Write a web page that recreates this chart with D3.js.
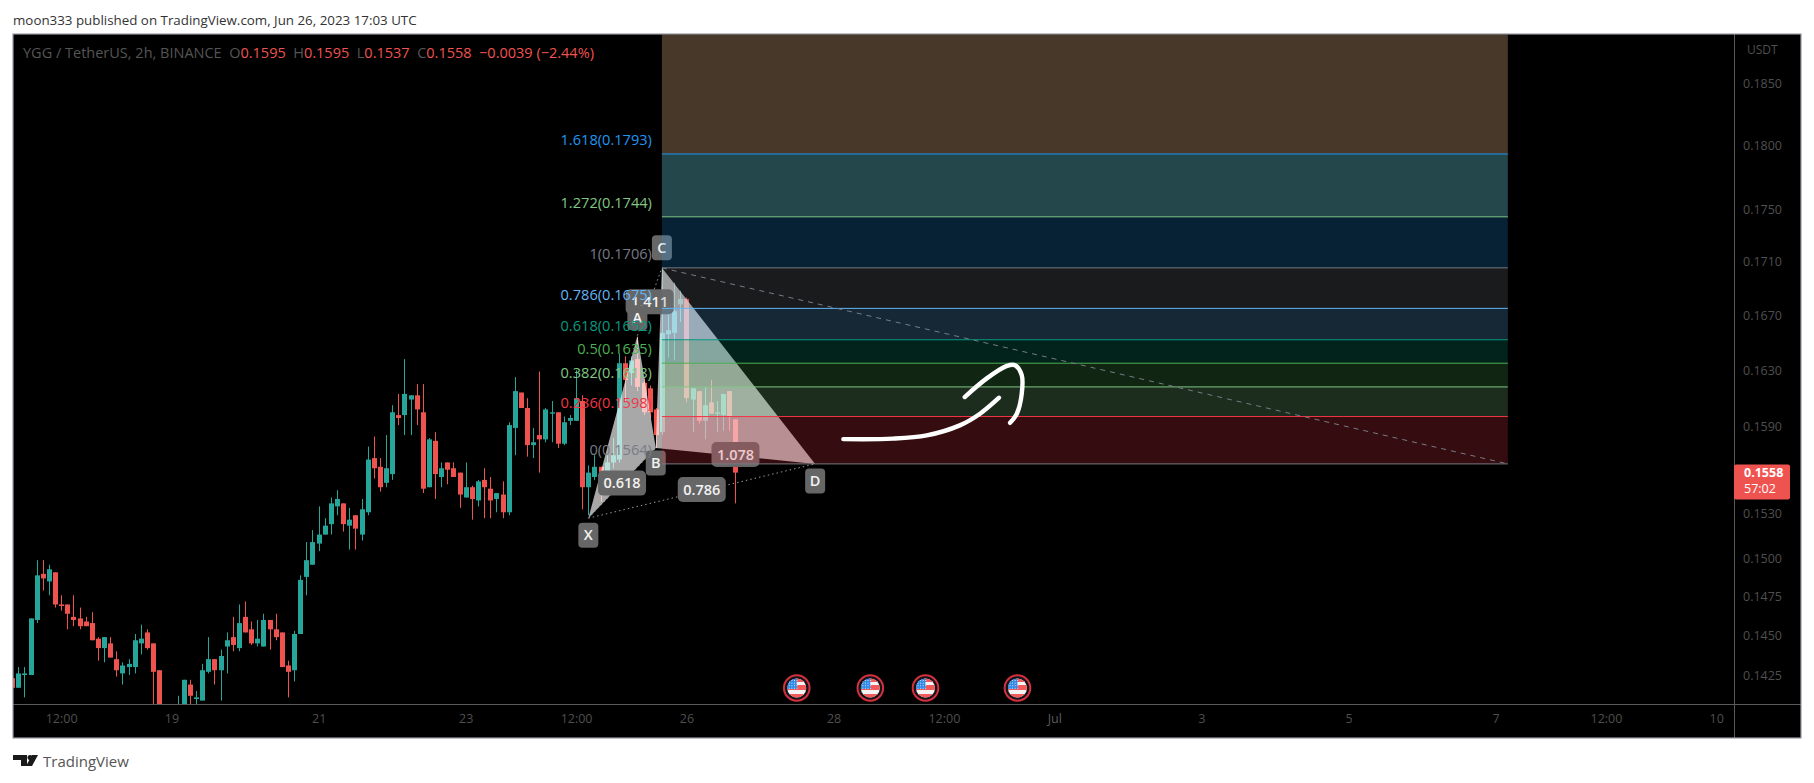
<!DOCTYPE html>
<html>
<head>
<meta charset="utf-8">
<script src="https://cdn.jsdelivr.net/npm/d3@7"></script>
<style>
html,body{margin:0;padding:0;background:#fff;}
svg{display:block;}
text{font-family:"Open Sans","Noto Sans",sans-serif;}
</style>
</head>
<body>
<svg id="chart" width="1814" height="783"></svg>
<script>
// bar index: 2h bars counted from 19 Jun 00:00
const firstBar = -26;
const opens  = [.1423,.1417,.1425,.1425,.1460,.1490,.1485,.1491,.1470,.1470,.1462,.1461,.1459,.1458,.1448,.1442,.1445,.1435,.1426,.1430,.1430,.1445,.1452,.1445,.1428,.1398,.1385,.1390,.1400,.1419,.1410,.1409,.1427,.1435,.1428,.1443,.1449,.1442,.1462,.1454,.1445,.1443,.1460,.1454,.1452,.1431,.1428,.1451,.1488,.1496,.1510,.1516,.1523,.1535,.1537,.1522,.1529,.1516,.1531,.1568,.1562,.1551,.1557,.1598,.1598,.1609,.1612,.1600,.1548,.1580,.1555,.1565,.1561,.1558,.1541,.1548,.1539,.1553,.1547,.1540,.1543,.1531,.1589,.1614,.1603,.1577,.1584,.1581,.1599,.1600,.1578,.1594,.1594,.1608,.1548,.1555,.1562,.1558,.1565,.1567,.1635,.1628,.1638,.1621,.1617,.1602,.1586,.1656,.1657,.1678,.1682,.1609,.1615,.1594,.1607,.1599,.1598,.1615,.1595];
const highs  = [.1423,.1430,.1430,.1461,.1499,.1499,.1496,.1491,.1476,.1470,.1476,.1468,.1462,.1465,.1449,.1449,.1449,.1440,.1433,.1435,.1451,.1457,.1454,.1445,.1428,.1400,.1400,.1412,.1422,.1422,.1415,.1432,.1449,.1435,.1441,.1452,.1462,.1470,.1472,.1459,.1460,.1464,.1460,.1464,.1452,.1434,.1453,.1489,.1511,.1519,.1535,.1527,.1541,.1546,.1537,.1534,.1529,.1540,.1576,.1583,.1568,.1584,.1605,.1613,.1638,.1612,.1620,.1620,.1582,.1586,.1565,.1565,.1565,.1558,.1565,.1549,.1553,.1561,.1555,.1544,.1552,.1593,.1625,.1614,.1610,.1589,.1629,.1603,.1608,.1600,.1597,.1598,.1630,.1612,.1563,.1570,.1562,.1570,.1582,.1642,.1640,.1640,.1654,.1624,.1619,.1603,.1705,.1672,.1694,.1688,.1683,.1617,.1615,.1618,.1623,.1608,.1613,.1615,.1595];
const lows   = [.1417,.1417,.1411,.1425,.1458,.1479,.1476,.1468,.1466,.1454,.1456,.1454,.1456,.1447,.1434,.1433,.1436,.1424,.1419,.1425,.1426,.1438,.1441,.1402,.1392,.1380,.1380,.1385,.1398,.1400,.1400,.1409,.1426,.1419,.1409,.1426,.1440,.1440,.1452,.1444,.1443,.1443,.1441,.1447,.1430,.1411,.1421,.1451,.1476,.1496,.1505,.1516,.1516,.1529,.1518,.1506,.1506,.1512,.1529,.1554,.1545,.1548,.1553,.1591,.1584,.1584,.1591,.1544,.1548,.1540,.1548,.1550,.1555,.1534,.1541,.1526,.1535,.1527,.1527,.1531,.1527,.1529,.1570,.1603,.1569,.1568,.1558,.1579,.1579,.1575,.1577,.1591,.1594,.1533,.1529,.1553,.1538,.1553,.1561,.1565,.1608,.1619,.1615,.1598,.1596,.1575,.1584,.1639,.1637,.1665,.1607,.1586,.1592,.1581,.1599,.1586,.1587,.1587,.1537];
const closes = [.1417,.1426,.1426,.1461,.1489,.1487,.1493,.1470,.1469,.1464,.1460,.1456,.1456,.1447,.1442,.1449,.1436,.1428,.1431,.1432,.1447,.1448,.1442,.1427,.1395,.1385,.1392,.1402,.1422,.1412,.1411,.1428,.1435,.1428,.1437,.1447,.1444,.1458,.1452,.1445,.1448,.1460,.1454,.1449,.1430,.1427,.1451,.1486,.1499,.1511,.1516,.1522,.1537,.1540,.1523,.1526,.1520,.1533,.1567,.1561,.1548,.1561,.1600,.1596,.1613,.1612,.1602,.1547,.1581,.1557,.1561,.1560,.1555,.1543,.1548,.1540,.1552,.1548,.1539,.1544,.1531,.1591,.1615,.1603,.1577,.1579,.1581,.1602,.1600,.1578,.1593,.1596,.1610,.1548,.1558,.1562,.1553,.1565,.1570,.1635,.1623,.1637,.1618,.1600,.1600,.1584,.1657,.1659,.1673,.1682,.1610,.1617,.1594,.1605,.1599,.1600,.1613,.1597,.1558];

const priceTicks = [.1850,.1800,.1750,.1710,.1670,.1630,.1590,.1530,.1500,.1475,.1450,.1425];
const timeTickBars = [-18,0,24,48,66,84,108,126,144,168,192,216,234,252];
const timeTickLabels = ["12:00","19","21","23","12:00","26","28","12:00","Jul","3","5","7","12:00","10"];

const fibRatios = ["1.618","1.272","1","0.786","0.618","0.5","0.382","0.236","0"];
const fibShown  = ["0.1793","0.1744","0.1706","0.1675","0.1652","0.1635","0.1618","0.1598","0.1564"];
const fibPrices = [.1793,.1744,.17052,.1675,.1652,.1635,.1618,.1597,.1564];
const fibColors = ["#2196f3","#81c784","#787b86","#64b5f6","#089981","#4caf50","#81c784","#f23645","#787b86"];
const fibBands  = ["rgba(205,160,120,.35)","rgba(100,203,211,.35)","rgba(33,150,243,.22)","rgba(120,123,134,.22)","rgba(100,181,246,.22)","rgba(8,153,129,.22)","rgba(76,175,80,.22)","rgba(129,199,132,.22)","rgba(242,54,69,.22)"];
const fibStartBar = 80, fibEndBar = 218, fibTopPrice = .1890;

const patternNames  = ["X","A","B","C","D"];
const patternBars   = [68,76,79,80,105];
const patternPrices = [.1527,.1655,.1575,.17052,.1564];
const ratioText = ["0.618","1.411","0.786","1.078"];
const ratioLegs = [["X","B"],["A","C"],["X","D"],["B","D"]];

const eventBars = [102,114,123,138];
const arrowA = [[109.6,.15812],[117.7,.15815],[123.2,.15838],[128.6,.15908],[131.9,.15990],[135.0,.16103]];
const arrowB = [[129.4,.16108],[133.0,.16241],[136.2,.16329],[137.6,.16336],[138.7,.16264],[138.7,.16132],[137.9,.15990],[136.8,.15926]];

const legendParts = [["YGG / TetherUS, 2h, BINANCE  ","#555"],["O","#555"],["0.1595  ","#ef5350"],["H","#555"],["0.1595  ","#ef5350"],["L","#555"],["0.1537  ","#ef5350"],["C","#555"],["0.1558  −0.0039 (−2.44%)","#ef5350"]];

// ---------- layout
const paneL = 13, paneT = 34, paneR = 1734, paneB = 704, frameR = 1801, frameB = 738;
const svg = d3.select("#chart");
const x = d3.scaleLinear().domain([0,252]).range([171.5,171.5+6.13*252]);
const y = d3.scaleLog().domain([.185,.1425]).range([83,675]);
const GREEN="#26a69a", RED="#ef5350";

svg.append("rect").attr("x",paneL).attr("y",paneT).attr("width",frameR-paneL).attr("height",frameB-paneT).attr("fill","#000");
svg.append("defs").append("clipPath").attr("id","pane").append("rect").attr("x",paneL).attr("y",paneT).attr("width",paneR-paneL).attr("height",paneB-paneT);
const pane = svg.append("g").attr("clip-path","url(#pane)");

// candles
const bars = d3.range(opens.length).map(i=>({b:firstBar+i,o:opens[i],h:highs[i],l:lows[i],c:closes[i]}));
const candle = pane.append("g").selectAll("g").data(bars).join("g");
candle.append("line").attr("x1",d=>Math.round(x(d.b))+.5).attr("x2",d=>Math.round(x(d.b))+.5)
  .attr("y1",d=>y(d.h)).attr("y2",d=>y(d.l))
  .attr("stroke",d=>d.c>=d.o?GREEN:RED).attr("stroke-width",1);
candle.append("rect").attr("x",d=>Math.round(x(d.b))-2).attr("width",5)
  .attr("y",d=>y(Math.max(d.o,d.c))).attr("height",d=>Math.max(1,y(Math.min(d.o,d.c))-y(Math.max(d.o,d.c))))
  .attr("fill",d=>d.c>=d.o?GREEN:RED);

// harmonic pattern
const pt = n=>{const i=patternNames.indexOf(n);return [x(patternBars[i]),y(patternPrices[i])];};
const lineGen = d3.line();
const pat = pane.append("g");
[["X","A","B"],["B","C","D"]].forEach(t=>{
  pat.append("path").attr("d",lineGen(t.map(pt))+"Z").attr("fill","rgba(255,255,255,.66)");
});
[["X","D"],["A","C"],["X","B"]].forEach(s=>{
  pat.append("path").attr("d",lineGen(s.map(pt))).attr("fill","none").attr("stroke","#9a9a9a").attr("stroke-width",1).attr("stroke-dasharray","1.5 3");
});
const labelFont = 'font-size:14.5px;font-weight:600;fill:#f2f2f2;';
function tag(g,cx,cy,w,h,rx,txt){
  g.append("rect").attr("x",cx-w/2).attr("y",cy-h/2).attr("width",w).attr("height",h).attr("rx",rx).attr("fill","#666");
  g.append("text").attr("x",cx).attr("y",cy).attr("dy","0.36em").attr("text-anchor","middle").attr("style",labelFont).text(txt);
}
const ratioNudge = [0,0,-1.5,-1.5];
ratioLegs.forEach((leg,i)=>{
  const a=pt(leg[0]),b=pt(leg[1]);
  tag(pat,(a[0]+b[0])/2,(a[1]+b[1])/2+ratioNudge[i],48,25,5,ratioText[i]);
});
const nameOffsets = {X:17,A:-18,B:15,C:-20,D:17};
patternNames.forEach(n=>{const p=pt(n);tag(pat,p[0],p[1]+nameOffsets[n],20,25,4,n);});

// fib bands and level lines
const fibG = pane.append("g");
const bandTops = [fibTopPrice].concat(fibPrices.slice(0,-1));
fibPrices.forEach((p,i)=>{
  fibG.append("rect").attr("x",x(fibStartBar)).attr("width",x(fibEndBar)-x(fibStartBar))
    .attr("y",y(bandTops[i])).attr("height",y(p)-y(bandTops[i])).attr("fill",fibBands[i]);
});
fibPrices.forEach((p,i)=>{
  fibG.append("line").attr("x1",x(fibStartBar)).attr("x2",x(fibEndBar)).attr("y1",y(p)).attr("y2",y(p)).attr("stroke",fibColors[i]).attr("stroke-width",1);
});
fibG.append("path").attr("d",lineGen([[x(fibStartBar),y(fibPrices[2])],[x(fibEndBar),y(fibPrices[8])]]))
  .attr("stroke","#787b86").attr("stroke-width",1).attr("stroke-dasharray","5 5").attr("fill","none");
fibPrices.forEach((p,i)=>{
  fibG.append("text").attr("x",x(fibStartBar)-10).attr("y",y(p)-14).attr("dy","0.36em").attr("text-anchor","end")
    .attr("style","font-size:14.6px;").attr("fill",fibColors[i]).text(fibRatios[i]+"("+fibShown[i]+")");
});

// hand-drawn arrow
const curve = d3.line().x(d=>x(d[0])).y(d=>y(d[1])).curve(d3.curveCatmullRom.alpha(.5));
[arrowA,arrowB].forEach(a=>pane.append("path").attr("d",curve(a)).attr("fill","none").attr("stroke","#fff").attr("stroke-width",4.4).attr("stroke-linecap","round"));

// event flags
const flagY = 688;
const defs = svg.select("defs");
defs.append("clipPath").attr("id","flagClip").append("circle").attr("r",9.5);
const flags = pane.append("g").selectAll("g").data(eventBars).join("g").attr("transform",d=>`translate(${x(d)},${flagY})`);
flags.append("circle").attr("r",12.8).attr("fill","#14141a").attr("stroke","#d5303e").attr("stroke-width",2);
flags.each(function(){
  const g=d3.select(this).append("g").attr("clip-path","url(#flagClip)");
  g.append("rect").attr("x",-10).attr("y",-10).attr("width",20).attr("height",20).attr("fill","#f4f4f4");
  g.append("rect").attr("x",-10).attr("y",-10).attr("width",20).attr("height",4).attr("fill","#f05a5a");
  g.append("rect").attr("x",-10).attr("y",-3).attr("width",20).attr("height",5).attr("fill","#f05a5a");
  g.append("rect").attr("x",-10).attr("y",6).attr("width",20).attr("height",4).attr("fill","#f05a5a");
  g.append("rect").attr("x",-10).attr("y",-10).attr("width",10).attr("height",11).attr("fill","#2f8ae8");
  for(let a=-8;a<0;a+=2.6)for(let b=-8;b<0;b+=2.6)g.append("rect").attr("x",a).attr("y",b).attr("width",1).attr("height",1).attr("fill","#cfe4fa");
});

// axes
const timeAxis = d3.axisBottom(x).tickValues(timeTickBars).tickSize(0).tickFormat((d,i)=>timeTickLabels[i]);
const tg = svg.append("g").attr("transform",`translate(0,${paneB+7})`).call(timeAxis);
tg.select(".domain").remove();
tg.selectAll("text").attr("style",'font-family:"Open Sans",sans-serif;font-size:12.5px;').attr("fill","#4f4f4f");
tg.selectAll("text").filter(function(){return this.textContent==="Jul";}).attr("fill","#5e5e5e");

const priceAxis = d3.axisRight(y).tickValues(priceTicks).tickSize(0).tickFormat(d3.format(".4f"));
const pg = svg.append("g").attr("transform",`translate(${paneR+9},0)`).call(priceAxis);
pg.select(".domain").remove();
pg.selectAll("text").attr("x",0).attr("style",'font-family:"Open Sans",sans-serif;font-size:12.5px;').attr("fill","#4f4f4f");
svg.append("text").attr("x",1747).attr("y",50).attr("dy","0.36em").attr("style","font-size:12px;").attr("fill","#4f4f4f").text("USDT");

// separators and frame
svg.append("line").attr("x1",paneL).attr("x2",frameR).attr("y1",paneB+.5).attr("y2",paneB+.5).attr("stroke","#5a5a5a");
svg.append("line").attr("x1",paneR+.5).attr("x2",paneR+.5).attr("y1",paneT).attr("y2",frameB).attr("stroke","#5a5a5a");
svg.append("rect").attr("x",paneL).attr("y",paneT).attr("width",frameR-paneL).attr("height",frameB-paneT).attr("fill","none").attr("stroke","#9a9aa4").attr("stroke-width",1.2);

// last price tag
const lastPrice = closes[closes.length-1];
const ly = y(lastPrice);
svg.append("rect").attr("x",paneR).attr("y",ly-8).attr("width",56).attr("height",35).attr("rx",2).attr("fill",RED);
svg.append("text").attr("x",paneR+10).attr("y",ly).attr("dy","0.36em").attr("style","font-size:12.5px;font-weight:700;").attr("fill","#fff").text(d3.format(".4f")(lastPrice));
svg.append("text").attr("x",paneR+10).attr("y",ly+16).attr("dy","0.36em").attr("style","font-size:12.5px;").attr("fill","#fff").text("57:02");

// legend and header
const legend = svg.append("text").attr("x",23).attr("y",53).attr("dy","0.36em").attr("style","font-size:14.5px;white-space:pre;");
legendParts.forEach(p=>legend.append("tspan").attr("fill",p[1]).text(p[0]));
svg.append("text").attr("x",13).attr("y",20.5).attr("dy","0.36em").attr("style","font-size:13.35px;").attr("fill","#333").text("moon333 published on TradingView.com, Jun 26, 2023 17:03 UTC");

// logo
const logo = svg.append("g").attr("fill","#1a1a1a");
logo.append("path").attr("d","M13 755H27V766H21V760H13Z");
logo.append("circle").attr("cx",30).attr("cy",757.5).attr("r",2.5);
logo.append("path").attr("d","M32 755H38L32 766H26Z");
svg.append("text").attr("x",43).attr("y",762).attr("dy","0.36em").attr("style","font-size:15px;").attr("fill","#555").text("TradingView");
</script>
</body>
</html>
